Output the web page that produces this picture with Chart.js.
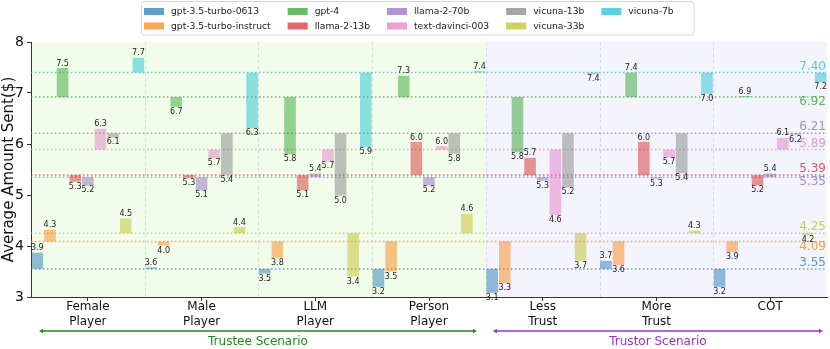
<!DOCTYPE html>
<html>
<head>
<meta charset="utf-8">
<script src="https://cdn.jsdelivr.net/npm/chart.js@4.4.1/dist/chart.umd.min.js"></script>
<style>
html,body{margin:0;padding:0;background:#fff;}
#wrap{width:830px;height:349px;}
</style>
</head>
<body>
<div id="wrap"><canvas id="c" width="830" height="349"></canvas></div>
<script>
// ---------- DATA ----------
const categories = [['Female','Player'],['Male','Player'],['LLM','Player'],['Person','Player'],['Less','Trust'],['More','Trust'],['COT']];
const models = ['gpt-3.5-turbo-0613','gpt-3.5-turbo-instruct','gpt-4','llama-2-13b','llama-2-70b','text-davinci-003','vicuna-13b','vicuna-33b','vicuna-7b'];
const baselines = [3.55, 4.09, 6.92, 5.39, 5.35, 5.89, 6.21, 4.25, 7.40];
const gpt35_0613     = [3.87, 3.58, 3.46, 3.20, 3.08, 3.71, 3.20];
const gpt35_instruct = [4.32, 4.01, 3.77, 3.50, 3.27, 3.63, 3.88];
const gpt4           = [7.49, 6.73, 5.80, 7.34, 5.84, 7.40, 6.94];
const llama2_13b     = [5.26, 5.34, 5.09, 6.04, 5.73, 6.04, 5.19];
const llama2_70b     = [5.19, 5.09, 5.42, 5.19, 5.28, 5.32, 5.42];
const davinci003     = [6.30, 5.72, 5.66, 5.96, 4.61, 5.74, 6.12];
const vicuna13b      = [6.13, 5.40, 4.99, 5.81, 5.15, 5.43, 6.18];
const vicuna33b      = [4.54, 4.37, 3.40, 4.63, 3.71, 4.30, 4.21];
const vicuna7b       = [7.69, 6.31, 5.94, 7.43, 7.37, 6.98, 7.21];
const seriesValues = [gpt35_0613, gpt35_instruct, gpt4, llama2_13b, llama2_70b, davinci003, vicuna13b, vicuna33b, vicuna7b];
const yTicks = [3, 4, 5, 6, 7, 8];
const scenarios = [
  {label:'Trustee Scenario', from:0, to:3},
  {label:'Trustor Scenario', from:4, to:6}
];

// ---------- STYLE ----------
const rgb = [[31,119,180],[255,127,14],[44,160,44],[214,39,40],[148,103,189],[227,119,194],[127,127,127],[188,189,34],[23,190,207]];
const rgba = (c,a)=>`rgba(${c[0]},${c[1]},${c[2]},${a})`;
const baseLabelSide = ['above','below','below','above','below','above','above','above','above'];
const FONT = '"DejaVu Sans", Verdana, sans-serif';
const scenarioColors = ['#1e8a1e', '#9b30c8'];

const datasets = models.map((m,i)=>({
  label: m,
  data: seriesValues[i].map(v=>[baselines[i], v]),
  backgroundColor: rgba(rgb[i],0.48),
  borderWidth: 0,
  barPercentage: 0.92,
  categoryPercentage: 1.0
}));

const overlay = {
  id:'overlay',
  beforeDraw(chart){
    const {ctx, chartArea:a, scales:{x}} = chart;
    const mid = (x.getPixelForValue(3)+x.getPixelForValue(4))/2;
    ctx.save();
    ctx.fillStyle = '#f1fdea';
    ctx.fillRect(a.left, a.top, mid-a.left, a.bottom-a.top);
    ctx.fillStyle = '#f4f4fd';
    ctx.fillRect(mid, a.top, a.right-mid, a.bottom-a.top);
    ctx.strokeStyle = 'rgba(180,180,180,0.55)';
    ctx.lineWidth = 0.8;
    ctx.setLineDash([3,3]);
    for(let i=0;i<categories.length-1;i++){
      const xb = Math.round((x.getPixelForValue(i)+x.getPixelForValue(i+1))/2)+0.5;
      ctx.beginPath(); ctx.moveTo(xb, a.top); ctx.lineTo(xb, a.bottom); ctx.stroke();
    }
    ctx.restore();
  },
  beforeDatasetsDraw(chart){
    const {ctx, chartArea:a, scales:{y}} = chart;
    ctx.save();
    ctx.lineWidth = 1.5;
    ctx.setLineDash([1.5,2.5]);
    baselines.forEach((b,i)=>{
      const py = y.getPixelForValue(b);
      ctx.strokeStyle = rgba(rgb[i],0.7);
      ctx.beginPath(); ctx.moveTo(a.left, py); ctx.lineTo(a.right, py); ctx.stroke();
    });
    ctx.restore();
  },
  afterDatasetsDraw(chart){
    const {ctx, chartArea:a, scales:{y}} = chart;
    ctx.save();
    ctx.font = `8px ${FONT}`;
    ctx.fillStyle = '#222';
    ctx.textAlign = 'center';
    models.forEach((m,i)=>{
      const meta = chart.getDatasetMeta(i);
      seriesValues[i].forEach((v,j)=>{
        const el = meta.data[j];
        const top = Math.min(el.y, el.base), bot = Math.max(el.y, el.base);
        const txt = v.toFixed(1);
        if(v >= baselines[i]){ ctx.textBaseline='bottom'; ctx.fillText(txt, el.x, top-0.5); }
        else { ctx.textBaseline='top'; ctx.fillText(txt, el.x, bot+1); }
      });
    });
    ctx.font = `12px ${FONT}`;
    ctx.textAlign = 'right';
    baselines.forEach((b,i)=>{
      const py = y.getPixelForValue(b);
      ctx.fillStyle = rgba(rgb[i],0.75);
      if(baseLabelSide[i]==='above'){ ctx.textBaseline='bottom'; ctx.fillText(b.toFixed(2), a.right-1, py); }
      else { ctx.textBaseline='top'; ctx.fillText(b.toFixed(2), a.right-1, py-1); }
    });
    ctx.restore();
  },
  afterDraw(chart){
    const {ctx, chartArea:a, scales:{x}} = chart;
    ctx.save();
    // scenario arrows
    const half = (x.getPixelForValue(1)-x.getPixelForValue(0))/2;
    scenarios.forEach((s,k)=>{
      const x0 = x.getPixelForValue(s.from)-half + (k===0?8:7);
      const x1 = x.getPixelForValue(s.to)+half - (k===0?9:4);
      const yy = 331;
      ctx.strokeStyle = scenarioColors[k]; ctx.fillStyle = scenarioColors[k];
      ctx.lineWidth = 1.3; ctx.setLineDash([]);
      ctx.beginPath(); ctx.moveTo(x0+2, yy); ctx.lineTo(x1-2, yy); ctx.stroke();
      [[x0,1],[x1,-1]].forEach(([px,d])=>{
        ctx.beginPath(); ctx.moveTo(px, yy); ctx.lineTo(px+4*d, yy-2.2); ctx.lineTo(px+4*d, yy+2.2); ctx.closePath(); ctx.fill();
      });
      ctx.font = `12px ${FONT}`;
      ctx.textAlign='center'; ctx.textBaseline='middle';
      ctx.fillText(s.label, (x0+x1)/2, 342);
    });
    // legend
    ctx.font = `9.2px ${FONT}`;
    const rows = 2, cols = Math.ceil(models.length/rows);
    const sw = 20, sh = 7, pad = 7, colGap = 17;
    let cx = 144; const colX = []; let lastEnd = 0;
    for(let c=0;c<cols;c++){
      colX.push(cx);
      let w = 0;
      for(let r=0;r<rows;r++){ const k=c*rows+r; if(k<models.length) w=Math.max(w, ctx.measureText(models[k]).width); }
      lastEnd = cx+sw+pad+w;
      cx += sw+pad+w+colGap;
    }
    const boxL = 141, boxR = lastEnd+20, boxT = 1.5, boxB = 35;
    ctx.fillStyle = 'rgba(255,255,255,0.85)';
    ctx.strokeStyle = '#d6d6d6'; ctx.lineWidth = 1;
    ctx.beginPath(); ctx.roundRect(boxL+0.5, boxT, boxR-boxL, boxB-boxT, 3); ctx.fill(); ctx.stroke();
    ctx.textAlign='left'; ctx.textBaseline='middle';
    const rowY = [11.5, 26];
    models.forEach((m,k)=>{
      const c = Math.floor(k/rows), r = k%rows;
      ctx.fillStyle = rgba(rgb[k],0.7);
      ctx.fillRect(colX[c], rowY[r]-sh/2, sw, sh);
      ctx.fillStyle = '#222';
      ctx.fillText(m, colX[c]+sw+pad, rowY[r]+0.5);
    });
    ctx.restore();
  }
};

new Chart(document.getElementById('c'), {
  type:'bar',
  data:{ labels: categories, datasets },
  options:{
    responsive:false,
    animation:false,
    devicePixelRatio:1,
    layout:{ padding:{ top:42, right:3, left:0, bottom:0 } },
    plugins:{ legend:{display:false}, tooltip:{enabled:false} },
    scales:{
      x:{
        offset:true,
        grid:{ display:true, drawOnChartArea:false, offset:false, tickLength:4, color:'#333' },
        border:{ display:true, color:'#333', width:1 },
        ticks:{ color:'#111', font:{ family:FONT, size:12, lineHeight:1.25 }, padding:-2, maxRotation:0, autoSkip:false },
        afterFit(s){ s.height = 52; }
      },
      y:{
        min:3, max:8,
        afterBuildTicks(s){ s.ticks = yTicks.map(v=>({value:v})); },
        grid:{ display:true, drawOnChartArea:false, tickLength:4, color:'#333' },
        border:{ display:true, color:'#333', width:1 },
        ticks:{ color:'#111', font:{ family:FONT, size:14 }, padding:3 },
        title:{ display:true, text:'Average Amount Sent($)', color:'#111', font:{ family:FONT, size:15 }, padding:{top:0,bottom:0} },
        afterFit(s){ s.width = 31; }
      }
    }
  },
  plugins:[overlay]
});
</script>
</body>
</html>
